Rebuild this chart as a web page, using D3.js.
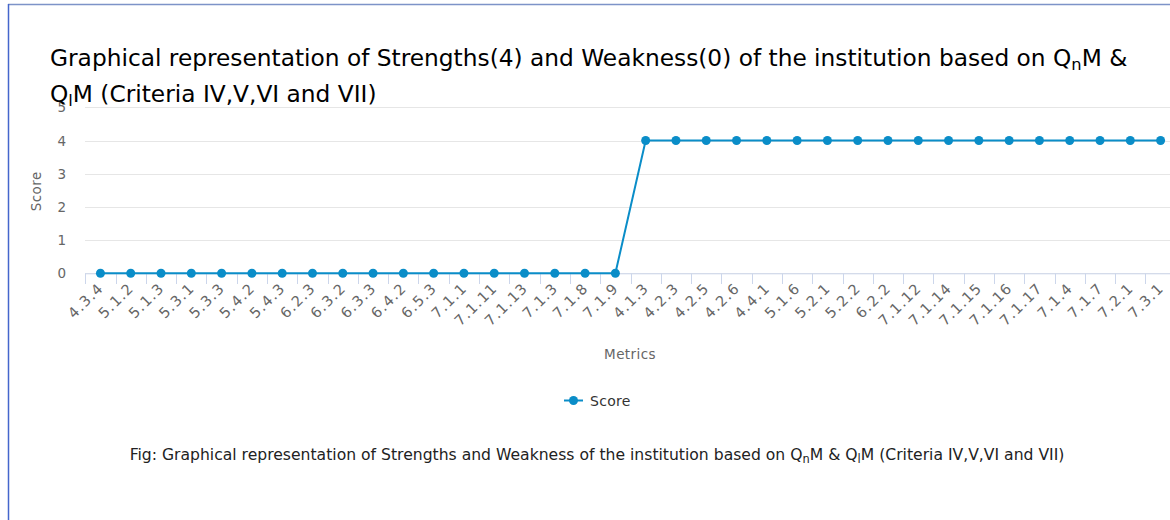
<!DOCTYPE html>
<html><head><meta charset="utf-8">
<script src="https://cdn.jsdelivr.net/npm/d3@7"></script>
<style>
html,body{margin:0;padding:0;background:#fff;overflow:hidden;}
svg{display:block;font-family:"DejaVu Sans",Verdana,sans-serif;}
</style></head>
<body>
<svg id="c" width="1170" height="520"></svg>
<script>
const categories = ["4.3.4","5.1.2","5.1.3","5.3.1","5.3.3","5.4.2","5.4.3","6.2.3","6.3.2","6.3.3","6.4.2","6.5.3","7.1.1","7.1.11","7.1.13","7.1.3","7.1.8","7.1.9","4.1.3","4.2.3","4.2.5","4.2.6","4.4.1","5.1.6","5.2.1","5.2.2","6.2.2","7.1.12","7.1.14","7.1.15","7.1.16","7.1.17","7.1.4","7.1.7","7.2.1","7.3.1"];
const scores = [0,0,0,0,0,0,0,0,0,0,0,0,0,0,0,0,0,0,4,4,4,4,4,4,4,4,4,4,4,4,4,4,4,4,4,4];
const yTicks = [0,1,2,3,4,5];
const seriesName = "Score";
const xTitle = "Metrics";
const yTitle = "Score";

const svg = d3.select("#c");
const color = "#0a8dc8";

// frame
svg.append("line").attr("x1",8).attr("x2",1170).attr("y1",4.5).attr("y2",4.5).attr("stroke","#7d93c8").attr("stroke-width",1.5);
svg.append("line").attr("x1",8.5).attr("x2",8.5).attr("y1",4).attr("y2",520).attr("stroke","#4466cc").attr("stroke-width",1.5);

const x = d3.scaleBand().domain(categories).range([85.3, 85.3 + 30.29*categories.length]);
const y = d3.scaleLinear().domain([0,5]).range([273.3,107.3]);

// grid
svg.append("g").selectAll("line").data(yTicks).join("line")
  .attr("x1",85).attr("x2",1170).attr("y1",d=>Math.round(y(d))+0.5).attr("y2",d=>Math.round(y(d))+0.5)
  .attr("stroke","#e6e6e6").attr("stroke-width",1);

// y labels
svg.append("g").selectAll("text").data(yTicks).join("text")
  .attr("x",66).attr("y",d=>y(d)+5).attr("text-anchor","end")
  .attr("font-size",13.5).attr("fill","#666").text(d=>d);

svg.append("text").attr("transform","translate(41,"+(y(2.5)+1)+") rotate(-90)")
  .attr("text-anchor","middle").attr("font-size",13.5).attr("letter-spacing",0.4).attr("fill","#666").text(yTitle);

// x axis
const xa = svg.append("g");
xa.append("line").attr("x1",85).attr("x2",1170).attr("y1",273.8).attr("y2",273.8).attr("stroke","#ccd6eb");
const bounds = categories.map(c=>x(c)).concat([x(categories[categories.length-1])+x.bandwidth()]);
xa.selectAll("line.t").data(bounds).join("line").attr("class","t")
  .attr("x1",d=>Math.round(d)+0.5).attr("x2",d=>Math.round(d)+0.5).attr("y1",273.5).attr("y2",284)
  .attr("stroke","#ccd6eb");
xa.selectAll("text").data(categories).join("text")
  .attr("transform",d=>"translate("+(x(d)+x.bandwidth()/2+4)+",289) rotate(-45)")
  .attr("text-anchor","end").attr("font-size",14.5).attr("letter-spacing",1.2).attr("fill","#666").text(d=>d);

svg.append("text").attr("x",630).attr("y",359).attr("text-anchor","middle")
  .attr("font-size",13.5).attr("letter-spacing",0.4).attr("fill","#666").text(xTitle);

// line
const line = d3.line().x((d,i)=>x(categories[i])+x.bandwidth()/2).y(d=>y(d));
svg.append("path").datum(scores).attr("d",line).attr("fill","none").attr("stroke",color).attr("stroke-width",2);
svg.append("g").selectAll("circle").data(scores).join("circle")
  .attr("cx",(d,i)=>x(categories[i])+x.bandwidth()/2).attr("cy",d=>y(d)).attr("r",4.5).attr("fill",color);

// legend
const lg = svg.append("g");
lg.append("line").attr("x1",564).attr("x2",583).attr("y1",400.5).attr("y2",400.5).attr("stroke",color).attr("stroke-width",2);
lg.append("circle").attr("cx",573.5).attr("cy",400.5).attr("r",4.5).attr("fill",color);
lg.append("text").attr("x",590).attr("y",405.5).attr("font-size",14).attr("letter-spacing",0.3).attr("fill","#333").text(seriesName);

// title
const t1 = svg.append("text").attr("x",50).attr("y",66).attr("font-size",20).attr("fill","#000");
t1.append("tspan").text("Graphical representation of Strengths(4) and Weakness(0) of the institution based on Q");
t1.append("tspan").attr("font-size",14).attr("dy",4).text("n");
t1.append("tspan").attr("dy",-4).text("M &");
const t2 = svg.append("text").attr("x",50).attr("y",102).attr("font-size",20).attr("fill","#000");
t2.append("tspan").text("Q");
t2.append("tspan").attr("font-size",14).attr("dy",4).text("l");
t2.append("tspan").attr("dy",-4).text("M (Criteria IV,V,VI and VII)");

// fit title width
const w1 = t1.node().getComputedTextLength();
const s1 = 1078 / w1;
t1.attr("font-size",20*s1); t1.selectAll("tspan").filter(function(){return d3.select(this).text()==="n";}).attr("font-size",14*s1);
t2.attr("font-size",20*s1); t2.selectAll("tspan").filter(function(){return d3.select(this).text()==="l";}).attr("font-size",14*s1);

// caption
const cap = svg.append("text").attr("x",597).attr("y",460).attr("text-anchor","middle").attr("font-size",13).attr("fill","#222");
cap.append("tspan").text("Fig: Graphical representation of Strengths and Weakness of the institution based on Q");
cap.append("tspan").attr("font-size",9.5).attr("dy",3).text("n");
cap.append("tspan").attr("dy",-3).text("M & Q");
cap.append("tspan").attr("font-size",9.5).attr("dy",3).text("l");
cap.append("tspan").attr("dy",-3).text("M (Criteria IV,V,VI and VII)");
const wc = cap.node().getComputedTextLength();
const sc = 935 / wc;
cap.attr("font-size",13*sc);
cap.selectAll("tspan").filter(function(){const s=d3.select(this).text();return s==="n"||s==="l";}).attr("font-size",9.5*sc);
</script>
</body></html>
